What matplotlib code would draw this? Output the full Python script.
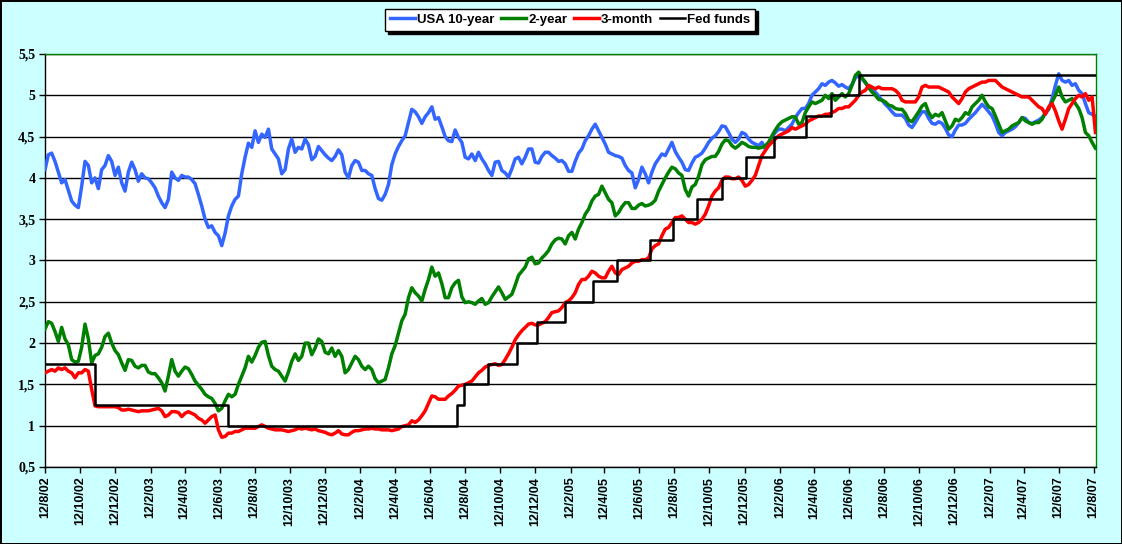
import matplotlib
matplotlib.use("Agg")
import matplotlib.pyplot as plt
import matplotlib.dates as mdates
from matplotlib.ticker import FixedLocator, FuncFormatter
import pandas as pd

# Yields (%), roughly every 5-6 days from 12/8/02 to mid 8/07
ten_year = [
    4.10, 4.28, 4.30, 4.20, 4.07, 3.94, 3.98, 3.85, 3.72, 3.67,
    3.64, 3.90, 4.20, 4.15, 3.94, 4.00, 3.87, 4.10, 4.15, 4.27,
    4.20, 4.03, 4.13, 3.94, 3.84, 4.07, 4.19, 4.10, 3.96, 4.05,
    4.00, 3.99, 3.94, 3.88, 3.78, 3.70, 3.64, 3.74, 4.07, 4.00,
    3.97, 4.03, 4.01, 4.01, 3.98, 3.93, 3.80, 3.66, 3.50, 3.40,
    3.42, 3.34, 3.30, 3.18, 3.33, 3.54, 3.66, 3.74, 3.78, 4.05,
    4.25, 4.42, 4.37, 4.57, 4.43, 4.53, 4.49, 4.59, 4.35, 4.29,
    4.23, 4.05, 4.10, 4.35, 4.47, 4.31, 4.37,
    4.35, 4.47, 4.40, 4.22, 4.26, 4.38, 4.33, 4.28, 4.24, 4.21,
    4.26, 4.34, 4.28, 4.07, 4.00, 4.15, 4.21, 4.19, 4.09, 4.09,
    4.05, 4.03, 3.87, 3.75, 3.73, 3.80, 3.92, 4.16, 4.29, 4.38,
    4.45, 4.51, 4.67, 4.83, 4.80, 4.74, 4.66, 4.74, 4.79, 4.86,
    4.71, 4.73, 4.62, 4.50, 4.45, 4.44, 4.58, 4.49, 4.43, 4.25,
    4.23, 4.29, 4.21, 4.31, 4.23, 4.17, 4.09, 4.03, 4.19, 4.20,
    4.09, 4.06, 4.01, 4.11, 4.23, 4.25, 4.17, 4.25, 4.35, 4.35,
    4.19, 4.18, 4.26, 4.31, 4.31, 4.27, 4.24, 4.20,
    4.21, 4.17, 4.08, 4.08, 4.20, 4.30, 4.35, 4.45, 4.51, 4.59,
    4.65, 4.57, 4.49, 4.41, 4.31, 4.29, 4.27, 4.26, 4.24, 4.15,
    4.09, 4.06, 3.88, 3.98, 4.13, 4.05, 3.94, 4.07, 4.17, 4.23,
    4.29, 4.27, 4.35, 4.43, 4.32, 4.25, 4.19, 4.10, 4.09, 4.18,
    4.25, 4.27, 4.30, 4.36, 4.43, 4.48, 4.51, 4.56, 4.63, 4.62,
    4.55, 4.47, 4.43, 4.47, 4.55, 4.53, 4.47, 4.43, 4.41, 4.39,
    4.43, 4.35, 4.43, 4.49, 4.55, 4.59, 4.59, 4.57, 4.61, 4.65,
    4.73, 4.79, 4.84, 4.84, 4.90, 5.00, 5.04, 5.08,
    5.14, 5.12, 5.16, 5.18, 5.15, 5.11, 5.13, 5.10, 5.08, 5.13,
    5.21, 5.24, 5.20, 5.15, 5.10, 5.07, 5.04, 4.99, 4.94, 4.89,
    4.85, 4.80, 4.76, 4.76, 4.76, 4.72, 4.64, 4.61, 4.67, 4.74,
    4.80, 4.80, 4.72, 4.66, 4.65, 4.68, 4.66, 4.60, 4.52, 4.50,
    4.58, 4.64, 4.64, 4.66, 4.71, 4.75, 4.79, 4.84, 4.89, 4.85,
    4.80, 4.75, 4.66, 4.55, 4.51, 4.55, 4.57, 4.59, 4.62, 4.67,
    4.73, 4.72, 4.67, 4.66, 4.68, 4.70, 4.73, 4.78, 4.83, 4.96,
    5.12, 5.26, 5.18, 5.16, 5.18, 5.12, 5.14, 5.06, 5.02, 4.90,
    4.79, 4.77, 4.75,
]

two_year = [
    2.17, 2.26, 2.24, 2.14, 2.02, 2.19, 2.05, 1.98, 1.80, 1.77,
    1.78, 1.95, 2.23, 2.05, 1.76, 1.85, 1.87, 1.95, 2.08, 2.12,
    2.00, 1.91, 1.86, 1.76, 1.67, 1.80, 1.79, 1.72, 1.70, 1.73,
    1.73, 1.65, 1.63, 1.63, 1.58, 1.52, 1.42, 1.60, 1.80, 1.66,
    1.60, 1.66, 1.71, 1.69, 1.62, 1.54, 1.49, 1.44, 1.38, 1.35,
    1.33, 1.27, 1.18, 1.21, 1.30, 1.38, 1.35, 1.38, 1.50, 1.60,
    1.70, 1.84, 1.77, 1.85, 1.95, 2.01, 2.02, 1.85, 1.72, 1.68,
    1.66, 1.60, 1.54, 1.65, 1.78, 1.87, 1.79,
    1.84, 2.00, 2.00, 1.86, 1.94, 2.05, 2.02, 1.89, 1.87, 1.94,
    1.84, 1.91, 1.84, 1.64, 1.68, 1.76, 1.84, 1.80, 1.72, 1.68,
    1.72, 1.68, 1.57, 1.52, 1.54, 1.56, 1.70, 1.87, 1.97, 2.12,
    2.27, 2.35, 2.55, 2.67, 2.61, 2.57, 2.51, 2.65, 2.77, 2.92,
    2.81, 2.85, 2.72, 2.55, 2.55, 2.67, 2.73, 2.76, 2.56, 2.49,
    2.50, 2.49, 2.47, 2.51, 2.54, 2.47, 2.49, 2.56, 2.62, 2.68,
    2.61, 2.53, 2.56, 2.59, 2.70, 2.82, 2.87, 2.92, 3.02, 3.04,
    2.96, 2.97, 3.03, 3.07, 3.12, 3.20, 3.25, 3.27,
    3.26, 3.20, 3.30, 3.34, 3.26, 3.38, 3.46, 3.56, 3.62, 3.72,
    3.78, 3.80, 3.90, 3.82, 3.74, 3.70, 3.54, 3.58, 3.65, 3.70,
    3.70, 3.63, 3.63, 3.67, 3.69, 3.66, 3.67, 3.69, 3.73, 3.84,
    3.92, 4.00, 4.07, 4.13, 4.11, 4.06, 4.03, 3.86, 3.78, 3.89,
    3.92, 4.02, 4.16, 4.22, 4.24, 4.26, 4.26, 4.32, 4.41, 4.46,
    4.45, 4.39, 4.36, 4.39, 4.43, 4.41, 4.38, 4.37, 4.37, 4.36,
    4.37, 4.39, 4.43, 4.51, 4.58, 4.64, 4.68, 4.70, 4.72, 4.74,
    4.74, 4.65, 4.67, 4.79, 4.86, 4.92, 4.90, 4.92,
    4.94, 5.00, 4.96, 5.02, 4.94, 4.98, 5.02, 4.98, 5.02, 5.12,
    5.24, 5.28, 5.21, 5.16, 5.09, 5.04, 5.00, 4.95, 4.94, 4.92,
    4.88, 4.87, 4.84, 4.83, 4.83, 4.78, 4.70, 4.68, 4.74, 4.80,
    4.87, 4.90, 4.79, 4.73, 4.77, 4.75, 4.79, 4.69, 4.59, 4.63,
    4.71, 4.69, 4.73, 4.79, 4.77, 4.86, 4.90, 4.94, 5.00, 4.92,
    4.86, 4.84, 4.75, 4.65, 4.55, 4.57, 4.59, 4.63, 4.65, 4.67,
    4.73, 4.69, 4.67, 4.65, 4.67, 4.67, 4.71, 4.79, 4.84, 4.92,
    5.00, 5.10, 4.98, 4.92, 4.94, 4.96, 4.90, 4.84, 4.73, 4.55,
    4.51, 4.43, 4.36,
]

three_month = [
    1.64, 1.66, 1.68, 1.66, 1.70, 1.68, 1.70, 1.66, 1.64, 1.58,
    1.64, 1.64, 1.68, 1.66, 1.44, 1.24, 1.23, 1.23, 1.23, 1.23,
    1.23, 1.23, 1.22, 1.19, 1.19, 1.20, 1.19, 1.18, 1.17, 1.18,
    1.18, 1.18, 1.19, 1.20, 1.21, 1.18, 1.11, 1.13, 1.17, 1.17,
    1.16, 1.11, 1.15, 1.17, 1.15, 1.13, 1.09, 1.07, 1.03, 1.07,
    1.11, 1.13, 0.95, 0.86, 0.87, 0.91, 0.91, 0.93, 0.93, 0.95,
    0.97, 0.97, 0.97, 0.97, 0.99, 1.01, 0.99, 0.97, 0.96, 0.95,
    0.95, 0.95, 0.94, 0.93, 0.94, 0.95, 0.97,
    0.96, 0.97, 0.96, 0.95, 0.96, 0.94, 0.93, 0.92, 0.90, 0.89,
    0.91, 0.94, 0.90, 0.89, 0.89, 0.92, 0.94, 0.94, 0.95, 0.96,
    0.96, 0.97, 0.96, 0.96, 0.95, 0.95, 0.95, 0.94, 0.95, 0.96,
    0.99, 1.00, 1.01, 1.06, 1.04, 1.07, 1.12, 1.18, 1.27, 1.36,
    1.35, 1.32, 1.32, 1.32, 1.36, 1.39, 1.43, 1.48, 1.49, 1.50,
    1.52, 1.54, 1.59, 1.64, 1.67, 1.71, 1.73, 1.74, 1.75, 1.73,
    1.74, 1.80, 1.87, 1.95, 2.04, 2.10, 2.15, 2.19, 2.23, 2.24,
    2.22, 2.22, 2.24, 2.26, 2.31, 2.37, 2.38, 2.39,
    2.43, 2.49, 2.51, 2.55, 2.61, 2.71, 2.77, 2.77, 2.81, 2.87,
    2.85, 2.81, 2.79, 2.79, 2.87, 2.93, 2.85, 2.83, 2.89, 2.91,
    2.93, 2.97, 2.99, 2.99, 3.01, 3.01, 3.03, 3.14, 3.18, 3.20,
    3.30, 3.38, 3.40, 3.46, 3.52, 3.52, 3.54, 3.50, 3.46, 3.46,
    3.44, 3.46, 3.50, 3.56, 3.66, 3.78, 3.84, 3.88, 3.97, 4.01,
    4.01, 3.99, 3.99, 4.01, 3.97, 3.90, 3.92, 3.97, 4.03, 4.15,
    4.27, 4.33, 4.39, 4.43, 4.47, 4.51, 4.53, 4.55, 4.57, 4.61,
    4.59, 4.61, 4.63, 4.65, 4.69, 4.71, 4.73, 4.75,
    4.75, 4.77, 4.77, 4.79, 4.81, 4.84, 4.84, 4.86, 4.86, 4.90,
    4.94, 5.00, 5.04, 5.06, 5.12, 5.10, 5.08, 5.10, 5.08, 5.08,
    5.08, 5.08, 5.06, 5.02, 4.94, 4.92, 4.92, 4.92, 4.92, 4.98,
    5.10, 5.12, 5.10, 5.10, 5.10, 5.10, 5.08, 5.06, 5.04, 4.98,
    4.94, 4.90, 4.96, 5.04, 5.08, 5.10, 5.12, 5.14, 5.16, 5.16,
    5.18, 5.18, 5.18, 5.14, 5.10, 5.08, 5.06, 5.04, 5.02, 5.00,
    4.98, 4.98, 4.98, 4.94, 4.90, 4.86, 4.84, 4.77, 4.86, 4.90,
    4.81, 4.69, 4.59, 4.71, 4.84, 4.90, 4.96, 5.00, 4.98, 5.02,
    4.94, 4.98, 4.55,
]

# Fed funds target: dates of change and new level
fed_dates = ["2002-08-12", "2002-11-07", "2003-06-26", "2004-07-29", "2004-08-11",
             "2004-09-22", "2004-11-11", "2004-12-15", "2005-02-03", "2005-03-23",
             "2005-05-04", "2005-07-01", "2005-08-10", "2005-09-21", "2005-11-02",
             "2005-12-14", "2006-02-01", "2006-03-29", "2006-05-11", "2006-06-30",
             "2007-08-16"]
fed_levels = [1.75, 1.25, 1.0, 1.25, 1.5, 1.75, 2.0, 2.25, 2.5, 2.75, 3.0, 3.25,
              3.5, 3.75, 4.0, 4.25, 4.5, 4.75, 5.0, 5.25, 5.25]

start, end = "2002-08-12", "2007-08-15"
y_ticks = [0.5, 1, 1.5, 2, 2.5, 3, 3.5, 4, 4.5, 5, 5.5]

bg = "#CCFFFF"
fig = plt.figure(figsize=(11.22, 5.44), dpi=100, facecolor=bg,
                 edgecolor="black", linewidth=2)
ax = fig.add_axes([45 / 1122, 1 - 467 / 544, 1051 / 1122, 413 / 544])
ax.set_facecolor("white")

d10 = pd.date_range(start, end, periods=len(ten_year))
d2 = pd.date_range(start, end, periods=len(two_year))
d3 = pd.date_range(start, end, periods=len(three_month))

ax.plot(d10, ten_year, color="#3366FF", lw=2.5, label="USA 10-year", zorder=3)
ax.plot(d2, two_year, color="#008000", lw=2.5, label="2-year", zorder=4)
ax.plot(d3, three_month, color="#FF0000", lw=2.5, label="3-month", zorder=5)
ax.step(pd.to_datetime(fed_dates), fed_levels, where="post", color="black",
        lw=1.8, label="Fed funds", zorder=6)

ax.set_xlim(pd.Timestamp("2002-08-12"), pd.Timestamp("2007-08-16"))
ax.set_ylim(0.5, 5.5)

# gridlines
ax.yaxis.set_major_locator(FixedLocator(y_ticks))
ax.grid(axis="y", color="black", lw=1)
ax.set_axisbelow(True)
ax.yaxis.set_major_formatter(FuncFormatter(lambda v, p: f"{v:g}".replace(".", ",")))

ax.xaxis.set_major_locator(mdates.MonthLocator(bymonth=range(2, 13, 2), bymonthday=12))
ax.xaxis.set_major_formatter(FuncFormatter(
    lambda v, p: "{0}/{1}/{2:%y}".format(mdates.num2date(v).day, mdates.num2date(v).month,
                                          mdates.num2date(v))))

ax.tick_params(axis="y", direction="out", length=4, width=1, pad=3)
ax.tick_params(axis="x", direction="out", length=4, width=1, pad=3, labelrotation=90)
for lab in ax.get_yticklabels():
    lab.set_fontfamily("Liberation Serif")
    lab.set_fontweight("bold")
    lab.set_fontsize(10)
for lab in ax.get_xticklabels():
    lab.set_fontfamily("Liberation Sans")
    lab.set_fontweight("bold")
    lab.set_fontsize(9)

for side in ["left", "bottom"]:
    ax.spines[side].set_color("black")
    ax.spines[side].set_linewidth(1)
for side in ["top", "right"]:
    ax.spines[side].set_color("#008000")
    ax.spines[side].set_linewidth(1)

leg = fig.legend(loc="center", bbox_to_anchor=(570 / 1122, 1 - 20 / 544), ncol=4,
                 frameon=True, fancybox=False, edgecolor="black", facecolor="white",
                 handlelength=1.9, handletextpad=0.15, columnspacing=0.5,
                 borderpad=0.4, borderaxespad=0,
                 shadow={"color": "black", "alpha": 1},
                 prop={"family": "Liberation Sans", "weight": "bold", "size": 9.5})
leg.get_frame().set_linewidth(1)

fig.savefig("out.png", dpi=100, facecolor=bg, edgecolor="black")
